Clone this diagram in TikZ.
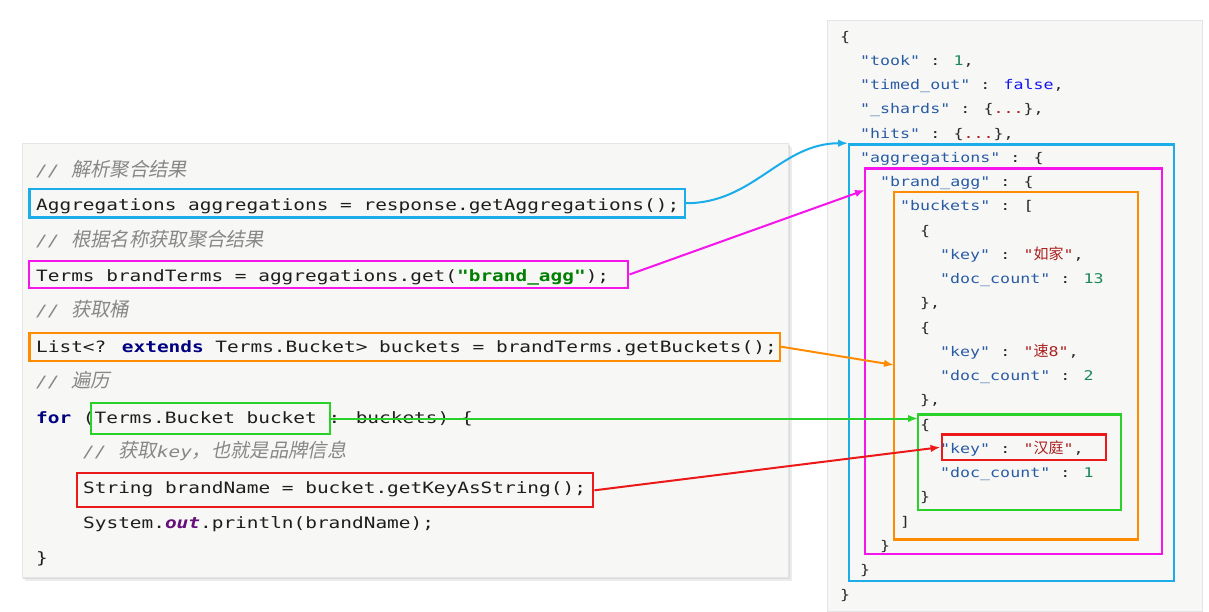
\documentclass[tikz,border=0pt]{standalone}
\usepackage{fontspec}
\usepackage{tikz}
\usetikzlibrary{arrows.meta}
\newfontfamily\codefont[FakeStretch=1.245]{DejaVu Sans Mono}
\newfontfamily\cjk{Noto Sans CJK SC}
\newfontfamily\cjksl[FakeSlant=0.2]{Noto Sans CJK SC}
\definecolor{aggblue}{RGB}{27,172,234}
\definecolor{brandpink}{RGB}{245,20,235}
\definecolor{bucketorange}{RGB}{255,140,0}
\definecolor{bucketgreen}{RGB}{40,210,40}
\definecolor{keyred}{RGB}{235,25,25}
\definecolor{panelbg}{RGB}{247,248,245}
\definecolor{codetext}{RGB}{30,30,30}
\definecolor{cmtgray}{RGB}{135,135,135}
\definecolor{kwnavy}{RGB}{0,0,128}
\definecolor{strgreen}{RGB}{0,128,0}
\definecolor{fieldpurple}{RGB}{102,14,122}
\definecolor{jkey}{RGB}{40,90,165}
\definecolor{jnum}{RGB}{25,135,90}
\definecolor{jstr}{RGB}{170,30,30}
\definecolor{jfalse}{RGB}{20,20,240}
\definecolor{jpunct}{RGB}{40,40,40}
\newcommand{\zh}[1]{{\cjksl\fontsize{19.3}{20}\selectfont #1}}
\newcommand{\jzh}[1]{{\cjk\fontsize{15}{16}\selectfont #1}}
\newcommand{\kw}[1]{\textcolor{kwnavy}{\textbf{#1}}}
\newcommand{\jk}[1]{\textcolor{jkey}{"#1"}}
\newcommand{\jn}[1]{\textcolor{jnum}{#1}}
\newcommand{\js}[1]{\textcolor{jstr}{"#1"}}

\begin{document}
\begin{tikzpicture}[x=1pt,y=-1pt,
  code/.style={anchor=base west, inner sep=0pt, text=codetext, font=\codefont\fontsize{15.6}{18}\selectfont},
  cmt/.style={code, text=cmtgray, font=\codefont\itshape\fontsize{15.6}{18}\selectfont},
  json/.style={anchor=base west, inner sep=0pt, text=jpunct, font=\codefont\fontsize{13.35}{16}\selectfont},
  hl/.style={draw=#1, line width=2.3pt, inner sep=0pt},
  link/.style={draw=#1, line width=2pt, -{Latex[length=10pt,width=7.5pt]}},
  panel/.style={fill=panelbg, draw=gray!20, line width=0.6pt}]
\useasboundingbox (0,0) rectangle (1209,611);
% panels
\fill[gray!15] (25,147) rectangle (792,581);
\fill[gray!28] (23,145) rectangle (790,579);
\path[panel] (22,143) rectangle (788,577);
\path[panel] (827,20) rectangle (1202,611);
% java code
\node[cmt] (c1) at (36,176) {// \zh{解析聚合结果}};
\node[code] (l1) at (36,210) {Aggregations aggregations = response.getAggregations();};
\node[cmt] (c2) at (36,246) {// \zh{根据名称获取聚合结果}};
\node[code] (l2) at (36,281) {Terms brandTerms = aggregations.get(\textbf{\textcolor{strgreen}{"brand\_agg"}});};
\node[cmt] (c3) at (36,316) {// \zh{获取桶}};
\node[code] (l3) at (36,352) {List<? \kw{extends} Terms.Bucket> buckets = brandTerms.getBuckets();};
\node[cmt] (c4) at (36,387) {// \zh{遍历}};
\node[code] (l4) at (36,423) {\kw{for} (Terms.Bucket bucket : buckets) \{};
\node[cmt] (c5) at (83,457) {// \zh{获取}key\zh{，也就是品牌信息}};
\node[code] (l5) at (83,493) {String brandName = bucket.getKeyAsString();};
\node[code] (l6) at (83,528) {System.\textcolor{fieldpurple}{\textbf{\textit{out}}}.println(brandName);};
\node[code] (l7) at (36,563) {\}};
% json response
\node[json] (j0) at (840,41) {\{};
\node[json] (j1) at (860,65.3) {\jk{took} : \jn{1},};
\node[json] (j2) at (860,89.5) {\jk{timed\_out} : \textcolor{jfalse}{false},};
\node[json] (j3) at (860,113.8) {\jk{\_shards} : \{\textcolor{jstr}{...}\},};
\node[json] (j4) at (860,138) {\jk{hits} : \{\textcolor{jstr}{...}\},};
\node[json] (j5) at (860,162.3) {\jk{aggregations} : \{};
\node[json] (j6) at (880,186.6) {\jk{brand\_agg} : \{};
\node[json] (j7) at (900,210.8) {\jk{buckets} : [};
\node[json] (j8) at (920,235.1) {\{};
\node[json] (j9) at (940,259.3) {\jk{key} : \js{\jzh{如家}},};
\node[json] (j10) at (940,283.6) {\jk{doc\_count} : \jn{13}};
\node[json] (j11) at (920,307.9) {\},};
\node[json] (j12) at (920,332.1) {\{};
\node[json] (j13) at (940,356.4) {\jk{key} : \js{\jzh{速}8},};
\node[json] (j14) at (940,380.6) {\jk{doc\_count} : \jn{2}};
\node[json] (j15) at (920,404.9) {\},};
\node[json] (j16) at (920,429.2) {\{};
\node[json] (j17) at (940,453.4) {\jk{key} : \js{\jzh{汉庭}},};
\node[json] (j18) at (940,477.7) {\jk{doc\_count} : \jn{1}};
\node[json] (j19) at (920,501.9) {\}};
\node[json] (j20) at (900,526.2) {]};
\node[json] (j21) at (880,550.5) {\}};
\node[json] (j22) at (860,574.7) {\}};
\node[json] (j23) at (840,599) {\}};
% highlight frames, code side
\node[hl=aggblue, minimum width=655.7, minimum height=28.3] (aggCode) at (357.2,203.2) {};
\node[hl=brandpink, minimum width=599, minimum height=27.6] (termsCode) at (328.8,274.5) {};
\node[hl=bucketorange, minimum width=750.7, minimum height=28] (listCode) at (404.7,346.7) {};
\node[hl=bucketgreen, minimum width=239, minimum height=31.6] (bucketCode) at (210.5,418.5) {};
\node[hl=keyred, minimum width=516.6, minimum height=34] (nameCode) at (335,490.3) {};
% highlight frames, json side
\node[hl=aggblue, minimum width=325, minimum height=436.7] (aggJson) at (1011.8,362.7) {};
\node[hl=brandpink, minimum width=296.7, minimum height=385.7] (brandJson) at (1013.3,361.2) {};
\node[hl=bucketorange, minimum width=244.6, minimum height=347.3] (bucketsJson) at (1016,365.7) {};
\node[hl=bucketgreen, minimum width=203.3, minimum height=95.7] (bucketJson) at (1019.3,462.2) {};
\node[hl=keyred, minimum width=164, minimum height=25.7] (keyJson) at (1023.7,447.2) {};
% connectors
\coordinate (brandTip) at (865,190);
\coordinate (bucketsTip) at (894,365);
\coordinate (bucketTip) at (918,418.5);
\draw[link=aggblue] (aggCode.east) to[out=0,in=180] (aggJson.north west);
\draw[link=brandpink] (termsCode.east) -- (brandTip);
\draw[link=bucketorange] (listCode.east) -- (bucketsTip);
\draw[link=bucketgreen] (bucketCode.east) -- (bucketTip);
\draw[link=keyred] (nameCode.east) -- (keyJson.west);
\end{tikzpicture}
\end{document}
